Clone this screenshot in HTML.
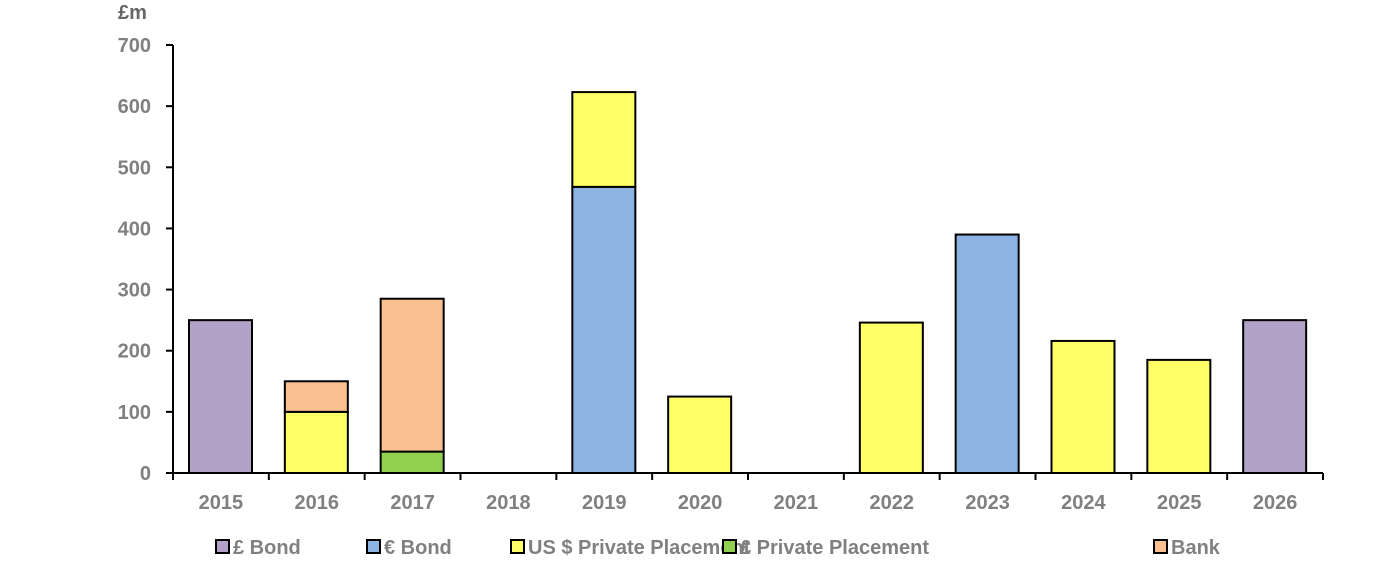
<!DOCTYPE html>
<html><head><meta charset="utf-8"><style>
body{margin:0;background:#fff;}
svg text{font-family:"Liberation Sans",Arial,sans-serif;font-weight:bold;fill:#808080;}
</style></head><body>
<svg id="chart" width="1375" height="573" xmlns="http://www.w3.org/2000/svg">
<text x="118" y="19" font-size="20" fill="#606060" style="fill:#666">£m</text>
<g id="axes"></g><g id="bars"></g><g id="legend"></g>
</svg>
<script>
const categories=["2015","2016","2017","2018","2019","2020","2021","2022","2023","2024","2025","2026"];
const gbpBond=[250,0,0,0,0,0,0,0,0,0,0,250];
const eurBond=[0,0,0,0,468,0,0,0,390,0,0,0];
const usPP=[0,100,0,0,155,125,0,246,0,216,185,0];
const gbpPP=[0,0,35,0,0,0,0,0,0,0,0,0];
const bank=[0,50,250,0,0,0,0,0,0,0,0,0];
const yTicks=[0,100,200,300,400,500,600,700];
const seriesNames=["£ Bond","€ Bond","US $ Private Placement","£ Private Placement","Bank"];
const series=[gbpBond,gbpPP,usPP,eurBond,bank];
const order=[0,3,2,1,4];
const colors=["#B3A2C7","#8DB3E2","#FFFF66","#92D050","#FAC090"];
const NS="http://www.w3.org/2000/svg";
const x0=173,x1=1323,yBase=473,yTop=45,yMax=700;
const band=(x1-x0)/categories.length;
const y=v=>yBase-(v/yMax)*(yBase-yTop);
const xc=i=>x0+band*i;
function mk(t,a,p){const e=document.createElementNS(NS,t);for(const k in a)e.setAttribute(k,a[k]);p.appendChild(e);return e;}
const axes=document.getElementById('axes'),bars=document.getElementById('bars'),leg=document.getElementById('legend');
let l=mk('line',{x1:x0,y1:yTop,x2:x0,y2:yBase,stroke:'#000','stroke-width':2},axes);


l=mk('line',{x1:x0,y1:yBase,x2:x1,y2:yBase,stroke:'#000','stroke-width':2},axes);


yTicks.forEach(v=>{
 mk('line',{x1:x0-7,y1:y(v),x2:x0,y2:y(v),stroke:'#000','stroke-width':2},axes);
 const t=mk('text',{x:151,y:y(v)+7,'text-anchor':'end','font-size':20},axes);t.textContent=v;
 
 
});
categories.forEach((c,i)=>{
 mk('line',{x1:xc(i),y1:yBase,x2:xc(i),y2:yBase+7,stroke:'#000','stroke-width':2},axes);
 const t=mk('text',{x:xc(i)+band/2,y:509,'text-anchor':'middle','font-size':20},axes);t.textContent=c;
 
 
});
mk('line',{x1:x1,y1:yBase,x2:x1,y2:yBase+7,stroke:'#000','stroke-width':2},axes);
// stacking order bottom->top: £ Bond, £ PP, € Bond, USPP, Bank
const stack=[0,3,1,2,4];
const data=[gbpBond,eurBond,usPP,gbpPP,bank];
categories.forEach((c,i)=>{
 let acc=0;
 stack.forEach(s=>{
  const v=data[s][i];if(!v)return;
  const r=mk('rect',{x:xc(i)+16,y:y(acc+v),width:63,height:y(acc)-y(acc+v),fill:colors[s],stroke:'#000','stroke-width':2},bars);
  
  
  acc+=v;
 });
});
const legX=[216,367,511,723,1154];
seriesNames.forEach((n,s)=>{
 const r=mk('rect',{x:legX[s],y:540,width:13,height:13,fill:colors[s],stroke:'#000','stroke-width':2},leg);
 
 
 const t=mk('text',{x:legX[s]+17,y:554,'font-size':20},leg);t.textContent=n;
 
 
});
</script>
</body></html>
